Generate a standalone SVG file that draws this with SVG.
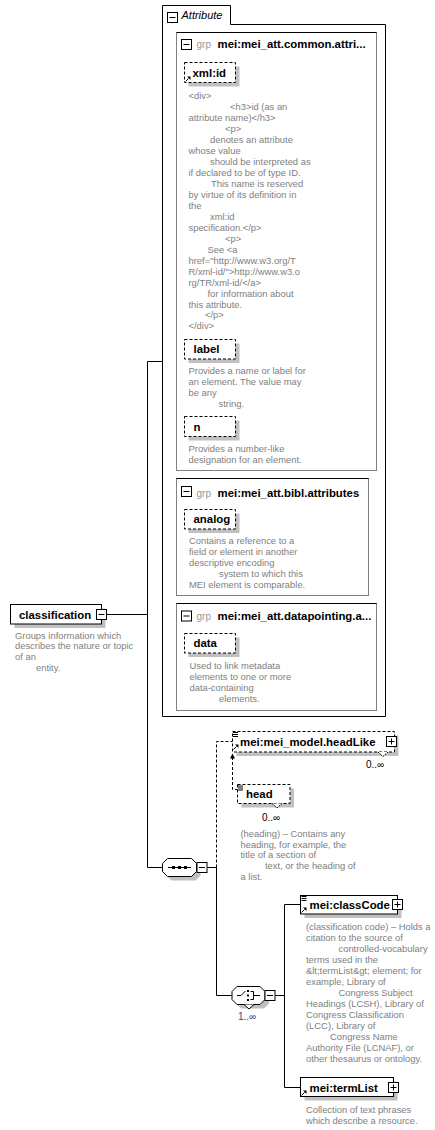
<svg xmlns="http://www.w3.org/2000/svg" xmlns:xlink="http://www.w3.org/1999/xlink" width="435" height="1130" viewBox="0 0 435 1130">
<style>
text{font-family:"Liberation Sans",Arial,sans-serif}
.doc{font-size:9.4px;fill:#808080}
.lbl{font-size:11.4px;font-weight:bold;fill:#000}
.grp{font-size:10px;fill:#999}
.occ{font-size:10px;fill:#000}
.box{fill:#fff;stroke:#000;stroke-width:1}
.dbox{fill:#fff;stroke:#000;stroke-width:1;stroke-dasharray:3,2}
.sh{fill:#c0c0c0}
.gbox{fill:#fff;stroke:#808080;stroke-width:1}
.ln{fill:none;stroke:#000;stroke-width:1}
.dl{fill:none;stroke:#000;stroke-width:1;stroke-dasharray:3,2}
</style>
<defs>
<g id="minus"><rect x="0.5" y="0.5" width="10" height="10" fill="#fff" stroke="#000"/><path d="M2.5,5.5 H8.5" stroke="#000"/></g>
<g id="plus"><rect x="0.5" y="0.5" width="10" height="10" fill="#fff" stroke="#000"/><path d="M2.5,5.5 H8.5 M5.5,2.5 V8.5" stroke="#000"/></g>
<g id="ref"><path d="M0.5,5.5 L3.5,2.5" stroke="#000" fill="none"/><polygon points="5.5,0.5 5.5,4 2,0.5" fill="#000"/></g>
<g id="seqi"><path d="M0,0.5 H5 M0,2.5 H5 M0,4.5 H5" stroke="#000" fill="none"/></g>
</defs>

<g id="connectors">
<path class="ln" d="M106.5,614.5 H147.5 M147.5,361.5 V867.5 M147.5,361.5 H162.5 M147.5,867.5 H162.5"/>
<path class="ln" d="M207,867.5 H216.5 V995.5 H232"/>
<path class="dl" d="M216.5,867.5 V741.5 H232.5"/>
<path class="dl" d="M232.5,757 V789.5 H237.5"/>
<polygon points="232.5,753.5 230,758.5 235,758.5" fill="#000"/>
<path class="ln" d="M275,995.5 H284.5 M284.5,904.5 V1087.5 M284.5,904.5 H300.5 M284.5,1087.5 H300.5"/>
</g>

<g id="classification">
<rect class="sh" x="14.5" y="608.5" width="91" height="19.5"/>
<rect class="box" x="10.5" y="604.5" width="91" height="19.5"/>
<text class="lbl" x="19" y="618.5">classification</text>
<use xlink:href="#minus" x="96" y="609"/>
<text class="doc" x="15" y="638.5">Groups information which</text>
<text class="doc" x="15" y="649.3">describes the nature or topic</text>
<text class="doc" x="15" y="660.1">of an</text>
<text class="doc" x="36" y="670.9">entity.</text>
</g>

<g id="attribute">
<path fill="#fff" stroke="#000" d="M162.5,716.5 V5.5 H230.5 V24.5 H385.5 V716.5 Z"/>
<use xlink:href="#minus" x="167" y="12"/>
<text x="181.5" y="19" font-size="11px" font-style="italic" fill="#000">Attribute</text>
</g>

<g id="grp-common">
<rect class="gbox" x="176.5" y="32.5" width="200" height="438"/>
<path class="ln" d="M176.5,32.5 H376.5"/>
<use xlink:href="#minus" x="181" y="39"/>
<text class="grp" x="196.5" y="48">grp</text>
<text class="lbl" x="217.5" y="48">mei:mei_att.common.attri...</text>
</g>

<g id="xml-id">
<rect class="sh" x="188.5" y="66.5" width="51" height="20"/>
<rect class="dbox" x="184.5" y="62.5" width="51" height="20"/>
<use xlink:href="#ref" x="185" y="76"/>
<text class="lbl" x="192.5" y="76.5">xml:id</text>
<text class="doc" x="188.5" y="99.4">&lt;div&gt;</text>
<text class="doc" x="230" y="110.4">&lt;h3&gt;id (as an</text>
<text class="doc" x="188.5" y="121.3">attribute name)&lt;/h3&gt;</text>
<text class="doc" x="225" y="132.3">&lt;p&gt;</text>
<text class="doc" x="210" y="143.2">denotes an attribute</text>
<text class="doc" x="188.5" y="154.2">whose value</text>
<text class="doc" x="210" y="165.1">should be interpreted as</text>
<text class="doc" x="188.5" y="176.1">if declared to be of type ID.</text>
<text class="doc" x="211" y="187">This name is reserved</text>
<text class="doc" x="188.5" y="198">by virtue of its definition in</text>
<text class="doc" x="188.5" y="208.9">the</text>
<text class="doc" x="210" y="219.9">xml:id</text>
<text class="doc" x="188.5" y="230.8">specification.&lt;/p&gt;</text>
<text class="doc" x="225" y="241.8">&lt;p&gt;</text>
<text class="doc" x="207.5" y="252.7">See &lt;a</text>
<text class="doc" x="188.5" y="263.7">href="http://www.w3.org/T</text>
<text class="doc" x="188.5" y="274.6">R/xml-id/"&gt;http://www.w3.o</text>
<text class="doc" x="188.5" y="285.6">rg/TR/xml-id/&lt;/a&gt;</text>
<text class="doc" x="207.5" y="296.5">for information about</text>
<text class="doc" x="188.5" y="307.5">this attribute.</text>
<text class="doc" x="205" y="318.4">&lt;/p&gt;</text>
<text class="doc" x="188.5" y="329.4">&lt;/div&gt;</text>
</g>

<g id="label">
<rect class="sh" x="188.5" y="343.5" width="51" height="19.5"/>
<rect class="dbox" x="184.5" y="339.5" width="51" height="19.5"/>
<text class="lbl" x="193.5" y="353">label</text>
<text class="doc" x="188.5" y="374.4">Provides a name or label for</text>
<text class="doc" x="188.5" y="385.4">an element. The value may</text>
<text class="doc" x="188.5" y="396.4">be any</text>
<text class="doc" x="218.5" y="407.4">string.</text>
</g>

<g id="n">
<rect class="sh" x="188.5" y="420.5" width="51" height="20"/>
<rect class="dbox" x="184.5" y="416.5" width="51" height="20"/>
<text class="lbl" x="193.5" y="431">n</text>
<text class="doc" x="188.5" y="452.4">Provides a number-like</text>
<text class="doc" x="188.5" y="463.4">designation for an element.</text>
</g>

<g id="grp-bibl">
<rect class="gbox" x="176.5" y="478.5" width="192" height="117"/>
<path class="ln" d="M176.5,478.5 H368.5"/>
<use xlink:href="#minus" x="181" y="486"/>
<text class="grp" x="196.5" y="497">grp</text>
<text class="lbl" x="217.5" y="497">mei:mei_att.bibl.attributes</text>
</g>

<g id="analog">
<rect class="sh" x="188.5" y="513.5" width="51" height="19.5"/>
<rect class="dbox" x="184.5" y="509.5" width="51" height="19.5"/>
<text class="lbl" x="193.5" y="523">analog</text>
<text class="doc" x="189" y="544.4">Contains a reference to a</text>
<text class="doc" x="189" y="555.4">field or element in another</text>
<text class="doc" x="189" y="566.4">descriptive encoding</text>
<text class="doc" x="219" y="577.4">system to which this</text>
<text class="doc" x="189" y="588.4">MEI element is comparable.</text>
</g>

<g id="grp-datapointing">
<rect class="gbox" x="176.5" y="603.5" width="200" height="107"/>
<path class="ln" d="M176.5,603.5 H376.5"/>
<use xlink:href="#minus" x="181" y="610.5"/>
<text class="grp" x="196.5" y="619.5">grp</text>
<text class="lbl" x="217.5" y="619.5">mei:mei_att.datapointing.a...</text>
</g>

<g id="data">
<rect class="sh" x="188.5" y="637.5" width="51" height="19.5"/>
<rect class="dbox" x="184.5" y="633.5" width="51" height="19.5"/>
<text class="lbl" x="193.5" y="647">data</text>
<text class="doc" x="189.5" y="669">Used to link metadata</text>
<text class="doc" x="189.5" y="680">elements to one or more</text>
<text class="doc" x="189.5" y="691">data-containing</text>
<text class="doc" x="219" y="702">elements.</text>
</g>

<g id="sequence">
<path class="sh" d="M171.5,862.5 H195.5 L200.5,867.5 V875.5 L195.5,880.5 H171.5 L166.5,875.5 V867.5 Z"/>
<path class="box" d="M167.5,858.5 H191.5 L196.5,863.5 V871.5 L191.5,876.5 H167.5 L162.5,871.5 V863.5 Z"/>
<path class="ln" d="M168,867.5 H191"/>
<rect x="172" y="866" width="3" height="3" fill="#000"/>
<rect x="178" y="866" width="3" height="3" fill="#000"/>
<rect x="184" y="866" width="3" height="3" fill="#000"/>
<use xlink:href="#minus" x="196.5" y="862"/>
</g>

<g id="headLike">
<rect class="sh" x="236.5" y="735.5" width="162" height="20.5"/>
<rect class="dbox" x="232.5" y="731.5" width="162" height="20.5"/>
<path d="M378,752 L383,756.5 L388,752" fill="#fff" stroke="#000" stroke-dasharray="2,1"/>
<use xlink:href="#seqi" x="233" y="732"/>
<use xlink:href="#ref" x="233" y="744"/>
<text class="lbl" x="240" y="745.5">mei:mei_model.headLike</text>
<use xlink:href="#plus" x="386" y="736"/>
<text class="occ" x="366" y="768">0..∞</text>
</g>

<g id="head">
<rect class="sh" x="241.5" y="788.5" width="52.5" height="19"/>
<rect class="dbox" x="237.5" y="784.5" width="52.5" height="19"/>
<path d="M272,803.5 L277,808 L282,803.5" fill="#fff" stroke="#000" stroke-dasharray="2,1"/>
<use xlink:href="#seqi" x="238" y="785.5"/>
<text class="lbl" x="246" y="797.5">head</text>
<text class="occ" x="262" y="820.5">0..∞</text>
<text class="doc" x="240.5" y="836.7">(heading) – Contains any</text>
<text class="doc" x="240.5" y="847.5">heading, for example, the</text>
<text class="doc" x="240.5" y="858.4">title of a section of</text>
<text class="doc" x="265" y="869.2">text, or the heading of</text>
<text class="doc" x="240.5" y="880">a list.</text>
</g>

<g id="choice">
<path class="sh" d="M241,990.5 H264 L269,995.5 V1003.5 L264,1008.5 H241 L236,1003.5 V995.5 Z"/>
<path class="box" d="M237,986.5 H260 L265,991.5 V999.5 L260,1004.5 H237 L232,999.5 V991.5 Z"/>
<path d="M244,1004.5 L249,1009 L254,1004.5" fill="#fff" stroke="#000"/>
<path class="ln" d="M237,995.5 H241 L245.5,991"/>
<rect x="247" y="990" width="2" height="2" fill="#000"/>
<rect x="247" y="994.5" width="2" height="2" fill="#000"/>
<rect x="247" y="999" width="2" height="2" fill="#000"/>
<path class="ln" d="M250.5,991.5 H253.5 V999.5 H250.5 M253.5,995.5 H260"/>
<use xlink:href="#minus" x="264.5" y="990"/>
<text x="238" y="1019.5" font-size="10px" fill="#3c3c8c">1..∞</text>
</g>

<g id="classCode">
<rect class="sh" x="304.5" y="899.5" width="97" height="18.5"/>
<rect class="box" x="300.5" y="895.5" width="97" height="18.5"/>
<use xlink:href="#seqi" x="301.5" y="896"/>
<use xlink:href="#ref" x="301" y="907"/>
<text class="lbl" x="309.5" y="909">mei:classCode</text>
<use xlink:href="#plus" x="392" y="899"/>
<text class="doc" x="306" y="930.1">(classification code) – Holds a</text>
<text class="doc" x="306" y="941.1">citation to the source of</text>
<text class="doc" x="338.5" y="952.1">controlled-vocabulary</text>
<text class="doc" x="306" y="963.1">terms used in the</text>
<text class="doc" x="306" y="974.1">&amp;lt;termList&amp;gt; element; for</text>
<text class="doc" x="306" y="985.1">example, Library of</text>
<text class="doc" x="338.5" y="996.1">Congress Subject</text>
<text class="doc" x="306" y="1007.1">Headings (LCSH), Library of</text>
<text class="doc" x="306" y="1018.1">Congress Classification</text>
<text class="doc" x="306" y="1029.1">(LCC), Library of</text>
<text class="doc" x="330" y="1040.1">Congress Name</text>
<text class="doc" x="306" y="1051.1">Authority File (LCNAF), or</text>
<text class="doc" x="306" y="1062.1">other thesaurus or ontology.</text>
</g>

<g id="termList">
<rect class="sh" x="304.5" y="1081.5" width="93" height="19"/>
<rect class="box" x="300.5" y="1077.5" width="93" height="19"/>
<use xlink:href="#ref" x="301" y="1090"/>
<text class="lbl" x="309.5" y="1091.5">mei:termList</text>
<use xlink:href="#plus" x="388" y="1082"/>
<text class="doc" x="306" y="1112.7">Collection of text phrases</text>
<text class="doc" x="306" y="1123.5">which describe a resource.</text>
</g>
</svg>
